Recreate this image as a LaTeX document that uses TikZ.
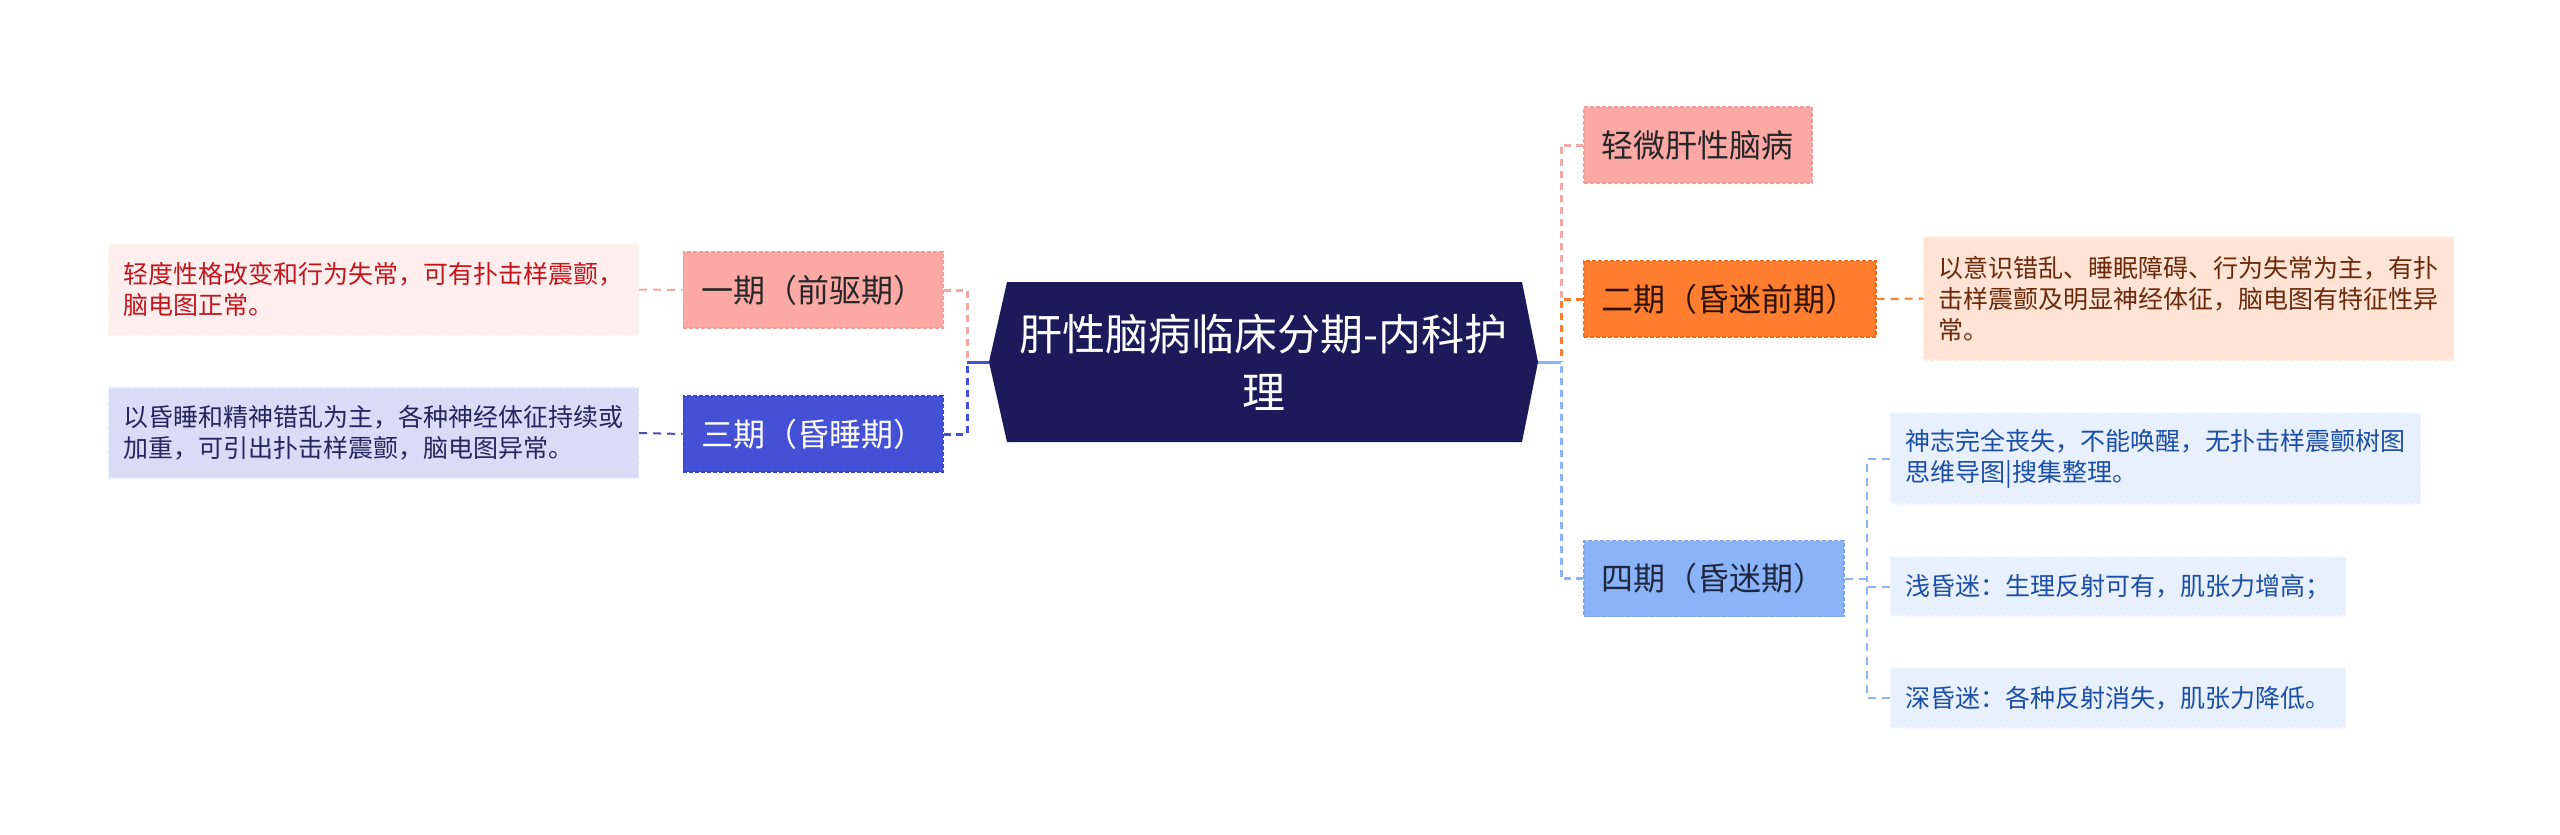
\documentclass[tikz,border=0pt]{standalone}
\usepackage{fontspec}
\setmainfont{Noto Sans CJK SC}
\definecolor{rootc}{HTML}{1C1A5B}
\definecolor{pinkfill}{HTML}{FCA9A6}
\definecolor{pinkdraw}{HTML}{F39B97}
\definecolor{pinkline}{HTML}{F4A7A4}
\definecolor{dafill}{HTML}{FFEEEE}
\definecolor{dadraw}{HTML}{FFF4F4}
\definecolor{datext}{HTML}{C2161C}
\definecolor{bluefill}{HTML}{4450D6}
\definecolor{bluedraw}{HTML}{3541C4}
\definecolor{blueline}{HTML}{4450D6}
\definecolor{dbfill}{HTML}{DADBF6}
\definecolor{dbdraw}{HTML}{E6E7F9}
\definecolor{dbtext}{HTML}{262660}
\definecolor{dbline}{HTML}{4B4FB0}
\definecolor{orfill}{HTML}{FE7D2E}
\definecolor{ordraw}{HTML}{F06C1C}
\definecolor{ortext}{HTML}{2B1200}
\definecolor{dcfill}{HTML}{FFE3D4}
\definecolor{dcdraw}{HTML}{FFEDE3}
\definecolor{dctext}{HTML}{6B2A0C}
\definecolor{lbfill}{HTML}{8BB4F8}
\definecolor{lbdraw}{HTML}{7AA5EE}
\definecolor{lbtext}{HTML}{1E2742}
\definecolor{ddfill}{HTML}{E8F0FD}
\definecolor{dddraw}{HTML}{F1F6FE}
\definecolor{ddtext}{HTML}{1B4EA6}
\definecolor{lvtext}{HTML}{262626}
\begin{document}
\begin{tikzpicture}[x=1pt,y=-1pt,
  lvl/.style={rectangle, inner xsep=18pt, inner ysep=0pt, minimum height=76pt,
    font=\fontsize{32}{38}\selectfont, draw, dash pattern=on 4pt off 2pt, line width=1.5pt},
  det/.style={rectangle, inner xsep=15pt, inner ysep=0pt, align=left,
    font=\fontsize{25}{31}\selectfont, draw, dash pattern=on 4pt off 2pt, line width=1.2pt},
  conn/.style={line width=3pt, dash pattern=on 7pt off 5pt},
  sconn/.style={line width=2pt, dash pattern=on 8pt off 6pt},
  rootlink/.style={line width=3pt}
]
\useasboundingbox (0,0) rectangle (2560,835);
% root
\path[fill=rootc] (989,362) -- (1007,282) -- (1522,282) -- (1538,362) -- (1522,442) -- (1007,442) -- cycle;
\node[minimum width=549pt, minimum height=160pt, inner sep=0pt, align=center, text=white,
  font=\fontsize{43}{58}\selectfont] (root) at (1263.5,362) {肝性脑病临床分期-内科护\\理};
% left level 1
\node[lvl, anchor=east, fill=pinkfill, draw=pinkdraw, text=lvtext] (n1) at (944,290) {一期（前驱期）};
\node[lvl, anchor=east, fill=bluefill, draw=bluedraw, text=white] (n3) at (944,434) {三期（昏睡期）};
% right level 1
\node[lvl, anchor=west, fill=pinkfill, draw=pinkdraw, text=lvtext] (m0) at (1583,145) {轻微肝性脑病};
\node[lvl, anchor=west, fill=orfill, draw=ordraw, text=ortext] (n2) at (1583,299) {二期（昏迷前期）};
\node[lvl, anchor=west, fill=lbfill, draw=lbdraw, text=lbtext] (n4) at (1583,578.5) {四期（昏迷期）};
% details
\node[det, anchor=west, minimum height=91pt, fill=dafill, draw=dadraw, text=datext] (d1) at (108,289.5) {轻度性格改变和行为失常，可有扑击样震颤，\\脑电图正常。};
\node[det, anchor=west, minimum height=90pt, fill=dbfill, draw=dbdraw, text=dbtext] (d3) at (108,433) {以昏睡和精神错乱为主，各种神经体征持续或\\加重，可引出扑击样震颤，脑电图异常。};
\node[det, anchor=west, minimum height=123pt, fill=dcfill, draw=dcdraw, text=dctext] (d2) at (1923,298.5) {以意识错乱、睡眠障碍、行为失常为主，有扑\\击样震颤及明显神经体征，脑电图有特征性异\\常。};
\node[det, anchor=west, minimum height=91pt, fill=ddfill, draw=dddraw, text=ddtext] (d4a) at (1890,458.5) {神志完全丧失，不能唤醒，无扑击样震颤树图\\思维导图|搜集整理。};
\node[det, anchor=west, minimum height=59pt, fill=ddfill, draw=dddraw, text=ddtext] (d4b) at (1890,586.5) {浅昏迷：生理反射可有，肌张力增高；};
\node[det, anchor=west, minimum height=60pt, fill=ddfill, draw=dddraw, text=ddtext] (d4c) at (1890,698) {深昏迷：各种反射消失，肌张力降低。};
% junction coordinates
\coordinate (lb) at (967,362);
\coordinate (rb) at (1561,362);
\coordinate (rb2) at (1561,299);
\coordinate (cb) at (1867,578.5);
% left connectors
\draw[conn, pinkline] (n1.east) -| (lb);
\draw[conn, blueline] (n3.east) -| (lb);
\draw[rootlink, blueline] (root.west) -- (lb);
\draw[sconn, pinkline] (d1.east) -- (n1.west);
\draw[sconn, dbline] (d3.east) -- (n3.west);
% right connectors
\draw[conn, pinkline] (m0.west) -| (rb2);
\draw[conn, orfill] (n2.west) -| (rb);
\draw[conn, lbfill] (n4.west) -| (rb);
\draw[rootlink, lbfill] (root.east) -- (rb);
\draw[sconn, orfill] (n2.east) -- (d2.west);
\draw[sconn, lbfill] (n4.east) -- (cb);
\draw[sconn, lbfill] (d4a.west) -| (cb);
\draw[sconn, lbfill] (d4b.west) -| (cb);
\draw[sconn, lbfill] (d4c.west) -| (cb);
\end{tikzpicture}
\end{document}
